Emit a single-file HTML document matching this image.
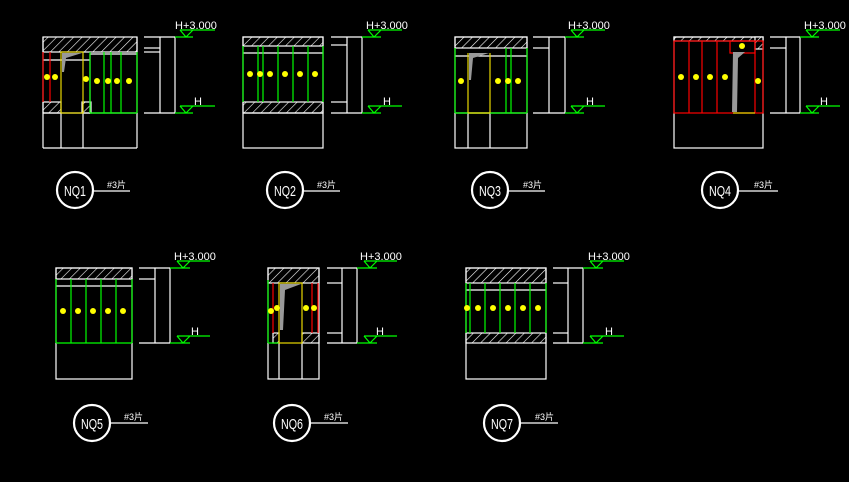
<!DOCTYPE html>
<html><head><meta charset="utf-8"><style>
html,body{margin:0;padding:0;background:#000;}
svg{display:block}
text{font-family:"Liberation Sans","Noto Sans CJK SC",sans-serif;fill:#fff}
</style></head><body>
<svg width="849" height="482" viewBox="0 0 849 482" xmlns="http://www.w3.org/2000/svg">
<defs>
<pattern id="h" width="6" height="6" patternUnits="userSpaceOnUse" patternTransform="rotate(45)">
<rect width="6" height="6" fill="#000"/><line x1="0" y1="0" x2="0" y2="6" stroke="#fff" stroke-width="1.2"/>
</pattern>
</defs>
<rect width="849" height="482" fill="#000"/>
<g stroke="#fff" stroke-width="1.2" fill="none">

<!-- NQ1 -->
<rect x="43" y="37" width="94" height="15" fill="url(#h)"/>
<rect x="43" y="102" width="18" height="11" fill="url(#h)"/>
<rect x="82" y="102" width="9" height="11" fill="url(#h)"/>
<line x1="43" y1="37" x2="43" y2="148"/><line x1="137" y1="37" x2="137" y2="148"/>
<line x1="43" y1="113" x2="137" y2="113"/><line x1="43" y1="148" x2="137" y2="148"/>
<line x1="61" y1="113" x2="61" y2="148"/><line x1="83" y1="113" x2="83" y2="148"/>
<line x1="43" y1="60" x2="90" y2="60"/><line x1="90" y1="54" x2="137" y2="54"/><line x1="90" y1="54" x2="90" y2="113"/>
<g stroke="#f00"><line x1="43" y1="52" x2="43" y2="102"/><line x1="50" y1="52" x2="50" y2="102"/></g>
<g stroke="#e8d800"><rect x="61" y="52" width="22" height="61"/></g>
<polygon points="62,53 82,53 66,58 64,72 62,72" fill="#999" stroke="none"/>
<g stroke="#0f0"><line x1="90" y1="52" x2="90" y2="113"/><line x1="104" y1="52" x2="104" y2="113"/><line x1="111" y1="52" x2="111" y2="113"/><line x1="121" y1="52" x2="121" y2="113"/><line x1="137" y1="52" x2="137" y2="113"/><line x1="90" y1="113" x2="137" y2="113"/></g>

<!-- NQ2 -->
<rect x="243" y="37" width="80" height="9" fill="url(#h)"/>
<rect x="243" y="102" width="80" height="11" fill="url(#h)"/>
<rect x="243" y="37" width="80" height="111"/>
<line x1="243" y1="113" x2="323" y2="113"/><line x1="243" y1="53" x2="323" y2="53"/>
<g stroke="#0f0"><line x1="243" y1="46" x2="243" y2="102"/><line x1="258" y1="46" x2="258" y2="102"/><line x1="263" y1="46" x2="263" y2="102"/><line x1="278" y1="46" x2="278" y2="102"/><line x1="293" y1="46" x2="293" y2="102"/><line x1="308" y1="46" x2="308" y2="102"/><line x1="323" y1="46" x2="323" y2="102"/></g>

<!-- NQ3 -->
<rect x="455" y="37" width="72" height="11" fill="url(#h)"/>
<rect x="455" y="37" width="72" height="111"/>
<line x1="455" y1="113" x2="527" y2="113"/><line x1="455" y1="56" x2="527" y2="56"/>
<line x1="468" y1="113" x2="468" y2="148"/><line x1="490" y1="113" x2="490" y2="148"/>
<g stroke="#0f0"><line x1="455" y1="48" x2="455" y2="113"/><line x1="506" y1="48" x2="506" y2="113"/><line x1="511" y1="48" x2="511" y2="113"/><line x1="527" y1="48" x2="527" y2="113"/><line x1="455" y1="113" x2="527" y2="113"/></g>
<g stroke="#e8d800"><line x1="468" y1="53" x2="468" y2="113"/><line x1="490" y1="53" x2="490" y2="113"/><line x1="468" y1="113" x2="490" y2="113"/></g>
<polygon points="469,53 489,53 473,58 471,80 469,80" fill="#999" stroke="none"/>

<!-- NQ4 -->
<rect x="674" y="37" width="89" height="4" fill="url(#h)"/>
<rect x="674" y="37" width="89" height="111"/>
<rect x="755" y="37" width="8" height="12" fill="url(#h)"/>
<g stroke="#f00"><rect x="674" y="41" width="89" height="72"/><line x1="689" y1="41" x2="689" y2="113"/><line x1="702" y1="41" x2="702" y2="113"/><line x1="717" y1="41" x2="717" y2="113"/><line x1="755" y1="41" x2="755" y2="113"/><rect x="730" y="41" width="25" height="12"/></g>
<polygon points="733,52 745,52 738,58 737,112 732,112" fill="#999" stroke="none"/>
<line x1="733" y1="113" x2="755" y2="113" stroke="#e8d800"/>

<!-- NQ5 -->
<rect x="56" y="268" width="76" height="11" fill="url(#h)"/>
<rect x="56" y="268" width="76" height="111"/>
<line x1="56" y1="286" x2="132" y2="286"/>
<g stroke="#0f0"><line x1="56" y1="279" x2="56" y2="343"/><line x1="71" y1="279" x2="71" y2="343"/><line x1="86" y1="279" x2="86" y2="343"/><line x1="101" y1="279" x2="101" y2="343"/><line x1="116" y1="279" x2="116" y2="343"/><line x1="132" y1="279" x2="132" y2="343"/><line x1="56" y1="343" x2="132" y2="343"/></g>

<!-- NQ6 -->
<rect x="268" y="268" width="51" height="15" fill="url(#h)"/>
<rect x="273" y="333" width="6" height="10" fill="url(#h)"/>
<rect x="302" y="333" width="17" height="10" fill="url(#h)"/>
<rect x="268" y="268" width="51" height="111"/>
<line x1="279" y1="343" x2="279" y2="379"/><line x1="302" y1="343" x2="302" y2="379"/>
<g stroke="#0f0"><line x1="268" y1="280" x2="268" y2="343"/><line x1="268" y1="343" x2="279" y2="343"/></g>
<g stroke="#f00"><line x1="273" y1="283" x2="273" y2="333"/><line x1="312" y1="283" x2="312" y2="333"/><line x1="318" y1="283" x2="318" y2="333"/></g>
<g stroke="#e8d800"><rect x="279" y="283" width="23" height="60"/></g>
<polygon points="280,284 301,284 285,290 283,330 280,330" fill="#999" stroke="none"/>

<!-- NQ7 -->
<rect x="466" y="268" width="80" height="15" fill="url(#h)"/>
<rect x="466" y="333" width="80" height="10" fill="url(#h)"/>
<rect x="466" y="268" width="80" height="111"/>
<line x1="466" y1="290" x2="546" y2="290"/>
<g stroke="#0f0"><line x1="466" y1="283" x2="466" y2="333"/><line x1="470" y1="283" x2="470" y2="333"/><line x1="485" y1="283" x2="485" y2="333"/><line x1="500" y1="283" x2="500" y2="333"/><line x1="515" y1="283" x2="515" y2="333"/><line x1="530" y1="283" x2="530" y2="333"/><line x1="546" y1="283" x2="546" y2="333"/></g>

<!-- dims -->
<g>
<line x1="144" y1="37" x2="175" y2="37"/><line x1="144" y1="113" x2="175" y2="113"/><line x1="144" y1="48" x2="160" y2="48"/><line x1="144" y1="52" x2="160" y2="52"/><line x1="160" y1="37" x2="160" y2="113"/><line x1="175" y1="37" x2="175" y2="113"/>
<line x1="331" y1="37" x2="362" y2="37"/><line x1="331" y1="113" x2="362" y2="113"/><line x1="331" y1="45" x2="347" y2="45"/><line x1="331" y1="102" x2="347" y2="102"/><line x1="347" y1="37" x2="347" y2="113"/><line x1="362" y1="37" x2="362" y2="113"/>
<line x1="533" y1="37" x2="565" y2="37"/><line x1="533" y1="113" x2="565" y2="113"/><line x1="533" y1="48" x2="549" y2="48"/><line x1="549" y1="37" x2="549" y2="113"/><line x1="565" y1="37" x2="565" y2="113"/>
<line x1="770" y1="37" x2="800" y2="37"/><line x1="770" y1="113" x2="800" y2="113"/><line x1="770" y1="48" x2="786" y2="48"/><line x1="786" y1="37" x2="786" y2="113"/><line x1="800" y1="37" x2="800" y2="113"/>
<line x1="139" y1="268" x2="170" y2="268"/><line x1="139" y1="343" x2="170" y2="343"/><line x1="139" y1="279" x2="155" y2="279"/><line x1="155" y1="268" x2="155" y2="343"/><line x1="170" y1="268" x2="170" y2="343"/>
<line x1="327" y1="268" x2="357" y2="268"/><line x1="327" y1="343" x2="357" y2="343"/><line x1="327" y1="283" x2="342" y2="283"/><line x1="327" y1="333" x2="342" y2="333"/><line x1="342" y1="268" x2="342" y2="343"/><line x1="357" y1="268" x2="357" y2="343"/>
<line x1="553" y1="268" x2="583" y2="268"/><line x1="553" y1="343" x2="583" y2="343"/><line x1="553" y1="283" x2="568" y2="283"/><line x1="553" y1="333" x2="568" y2="333"/><line x1="568" y1="268" x2="568" y2="343"/><line x1="583" y1="268" x2="583" y2="343"/>
</g>

<!-- level markers -->
<g stroke="#0f0">
<path d="M180,30H215M180,30L186,37L193,30M175,37H193"/><path d="M180,106H215M180,106L186,113L193,106M175,113H193"/>
<path d="M368,30H402M368,30L374,37L381,30M362,37H381"/><path d="M368,106H402M368,106L374,113L381,106M362,113H381"/>
<path d="M571,30H605M571,30L577,37L584,30M565,37H584"/><path d="M571,106H605M571,106L577,113L584,106M565,113H584"/>
<path d="M806,30H840M806,30L812,37L819,30M800,37H819"/><path d="M806,106H840M806,106L812,113L819,106M800,113H819"/>
<path d="M177,261H210M177,261L183,268L190,261M170,268H190"/><path d="M177,336H210M177,336L183,343L190,336M170,343H190"/>
<path d="M364,261H397M364,261L370,268L377,261M357,268H377"/><path d="M364,336H397M364,336L370,343L377,336M357,343H377"/>
<path d="M590,261H624M590,261L596,268L603,261M583,268H603"/><path d="M590,336H624M590,336L596,343L603,336M583,343H603"/>
</g>

<!-- label circles -->
<g stroke-width="2.2">
<circle cx="75" cy="190" r="18"/><circle cx="285" cy="190" r="18"/><circle cx="490" cy="190" r="18"/><circle cx="720" cy="190" r="18"/>
<circle cx="92" cy="423" r="18"/><circle cx="292" cy="423" r="18"/><circle cx="502" cy="423" r="18"/>
</g>
<path d="M93,191H130M303,191H340M508,191H545M738,191H778M110,423H148M310,423H348M520,423H558"/>
</g>

<!-- yellow symbols -->
<g fill="#ff0">
<circle cx="47" cy="77" r="3"/><circle cx="55" cy="77" r="3"/><circle cx="86" cy="79" r="3"/><circle cx="97" cy="81" r="3"/><circle cx="108" cy="81" r="3"/><circle cx="117" cy="81" r="3"/><circle cx="129" cy="81" r="3"/>
<circle cx="250" cy="74" r="3"/><circle cx="260" cy="74" r="3"/><circle cx="270" cy="74" r="3"/><circle cx="285" cy="74" r="3"/><circle cx="300" cy="74" r="3"/><circle cx="315" cy="74" r="3"/>
<circle cx="461" cy="81" r="3"/><circle cx="498" cy="81" r="3"/><circle cx="508" cy="81" r="3"/><circle cx="518" cy="81" r="3"/>
<circle cx="681" cy="77" r="3"/><circle cx="696" cy="77" r="3"/><circle cx="710" cy="77" r="3"/><circle cx="725" cy="77" r="3"/><circle cx="758" cy="81" r="3"/><circle cx="742" cy="46" r="3"/>
<circle cx="63" cy="311" r="3"/><circle cx="78" cy="311" r="3"/><circle cx="93" cy="311" r="3"/><circle cx="108" cy="311" r="3"/><circle cx="123" cy="311" r="3"/>
<circle cx="271" cy="311" r="3"/><circle cx="277" cy="308" r="3"/><circle cx="306" cy="308" r="3"/><circle cx="314" cy="308" r="3"/>
<circle cx="467" cy="308" r="3"/><circle cx="478" cy="308" r="3"/><circle cx="493" cy="308" r="3"/><circle cx="508" cy="308" r="3"/><circle cx="523" cy="308" r="3"/><circle cx="538" cy="308" r="3"/>
</g>

<!-- texts -->
<g font-size="11">
<text x="175" y="29">H+3.000</text><text x="194" y="105">H</text>
<text x="366" y="29">H+3.000</text><text x="383" y="105">H</text>
<text x="568" y="29">H+3.000</text><text x="586" y="105">H</text>
<text x="804" y="29">H+3.000</text><text x="820" y="105">H</text>
<text x="174" y="260">H+3.000</text><text x="191" y="335">H</text>
<text x="360" y="260">H+3.000</text><text x="376" y="335">H</text>
<text x="588" y="260">H+3.000</text><text x="605" y="335">H</text>
</g>
<g font-size="15" text-anchor="middle">
<text x="75" y="196" textLength="22" lengthAdjust="spacingAndGlyphs">NQ1</text>
<text x="285" y="196" textLength="22" lengthAdjust="spacingAndGlyphs">NQ2</text>
<text x="490" y="196" textLength="22" lengthAdjust="spacingAndGlyphs">NQ3</text>
<text x="720" y="196" textLength="22" lengthAdjust="spacingAndGlyphs">NQ4</text>
<text x="92" y="429" textLength="22" lengthAdjust="spacingAndGlyphs">NQ5</text>
<text x="292" y="429" textLength="22" lengthAdjust="spacingAndGlyphs">NQ6</text>
<text x="502" y="429" textLength="22" lengthAdjust="spacingAndGlyphs">NQ7</text>
</g>
<g font-size="9">
<text x="107" y="188">#3片</text><text x="317" y="188">#3片</text><text x="523" y="188">#3片</text><text x="754" y="188">#3片</text>
<text x="124" y="420">#3片</text><text x="324" y="420">#3片</text><text x="535" y="420">#3片</text>
</g>
</svg>
</body></html>
